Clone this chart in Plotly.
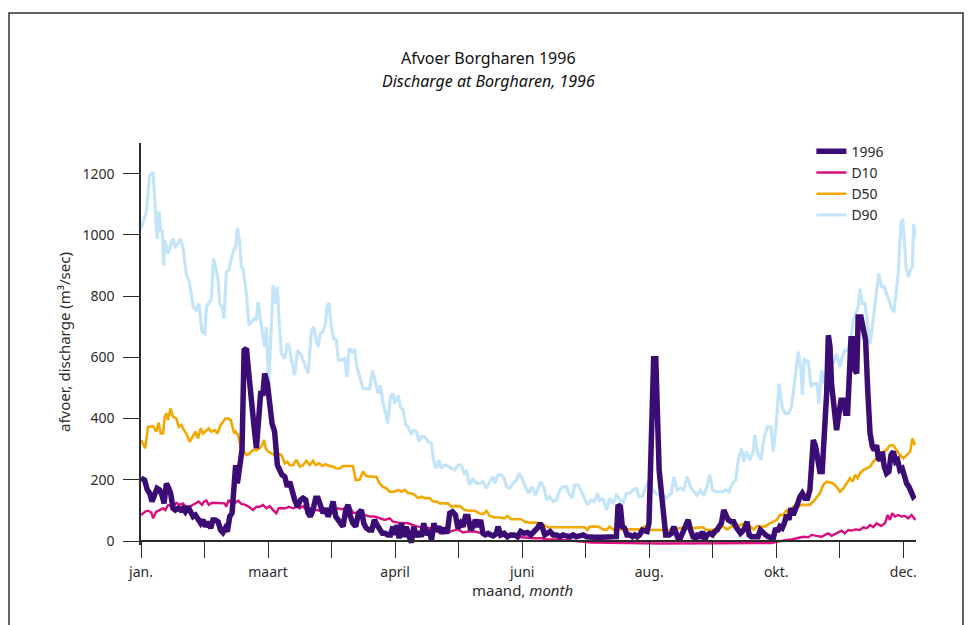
import plotly.graph_objects as go

# Day of year (0 = 1 January 1996) and discharge in m3/s for each series

d90_day = [0, 2.5, 4.1, 5.7, 6.8, 7.6, 8.5, 9.3, 10.1, 10.7, 11.2, 12.8, 13.9, 15.1, 16.2, 17.5, 18.7, 19.8,
           21.4, 23.0, 24.6, 26.1, 27.4, 28.8, 30.1, 30.9, 32.4, 33.2, 34.2, 35.6, 36.4, 37.2, 38.3, 39.2,
           40.3, 41.4, 42.7, 44.0, 44.6, 45.5, 46.5, 47.4, 48.2, 49.8, 50.9, 52.1, 53.7, 54.5, 55.3, 56.5,
           57.6, 58.4, 59.2, 60.3, 62.4, 63.2, 64.4, 65.0, 66.3, 67.9, 69.1, 70.2, 71.0, 72.6, 73.9,
           75.7, 77.3, 78.9, 80.5, 81.6, 82.8, 83.6, 84.7, 86.0, 87.1, 87.9, 88.8, 89.9, 91.0, 92.3, 93.2,
           94.6, 96.2, 97.3, 98.3, 99.8, 100.9, 102.0, 103.3, 104.9, 106.4, 108.0, 109.3, 110.4, 112.0,
           113.1, 114.3, 115.6, 116.5, 117.8, 119.0, 119.8, 121.4, 122.5, 123.8, 125.0, 126.1, 127.7,
           128.8, 130.1, 131.3, 132.4, 134.0, 135.6, 137.2, 138.0, 139.2, 140.8, 141.6, 142.7, 144.2,
           146.6, 148.1, 149.7, 151.3, 152.6, 153.7, 155.2, 156.8, 158.4, 160.0, 161.5, 163.1, 164.7,
           166.3, 167.0, 168.6, 170.2, 171.5, 172.6, 174.1, 175.7, 177.3, 178.5, 180.0, 181.5, 183.1,
           184.7, 186.3, 187.5, 188.8, 190.4, 191.6, 193.0, 194.6, 196.2, 197.8, 199.3, 200.9, 202.0,
           203.6, 204.8, 206.4, 207.7, 209.3, 210.8, 212.4, 214.0, 215.6, 216.7, 218.2, 219.8,
           221.3, 222.9, 224.5, 226.1, 227.6, 229.2, 230.8, 232.4, 234.0, 235.2, 236.8, 238.4, 239.9,
           241.5, 243.1, 244.7, 246.2, 247.8, 249.4, 250.5, 251.6, 253.2, 254.7, 256.3, 257.9, 259.5,
           261.0, 262.6, 264.2, 265.8, 267.3, 268.6, 269.9, 271.4, 273.0, 274.6, 276.2, 277.7, 279.3,
           280.9, 282.0, 283.6, 284.7, 285.9, 287.5, 289.1, 289.9, 291.0,
           292.8, 294.3, 295.9, 297.5, 298.6, 300.2, 301.3, 302.8, 304.1, 305.7, 307.2, 308.5, 309.6,
           310.4, 311.7, 312.3, 313.2, 314.3, 315.1, 316.4, 317.5, 319.1, 320.2, 321.4, 322.7, 323.8,
           324.9, 326.1, 327.4, 328.5, 330.1, 331.2, 332.4, 333.7, 335.0, 336.4, 337.5, 338.7, 339.5,
           340.6, 341.9, 343.2, 344.3, 345.4, 346.3, 347.4, 348.5, 349.8, 351.0, 352.1, 353.2, 354.5,
           355.6, 356.4, 357.6, 358.9, 359.7, 360.5, 361.3, 362.4, 363.6, 364.3, 364.9, 365.8]
d90_q = [1020, 1074, 1194, 1205, 1080, 987, 1078, 1009, 1015, 900, 982, 938, 966, 987, 962, 971, 987, 960,
         873, 841, 765, 754, 775, 683, 677, 765, 781, 786, 922, 884, 851, 775, 765, 726,
         879, 884, 922, 955, 955, 1023, 982, 895, 890, 808, 705, 716, 726, 721, 781, 716,
         667, 634, 699, 509, 835, 775, 830, 743, 612, 596, 645, 629, 591, 542, 623,
         607, 580, 547, 688, 699, 656, 634, 678, 683, 710, 765, 778, 699, 661, 656, 591,
         591, 596, 536, 629, 618, 623, 569, 536, 498, 498, 498, 558, 525, 482,
         509, 449, 417, 384, 471, 482, 449, 476, 438, 427, 379, 373, 351,
         362, 357, 324, 341, 341, 324, 319, 270, 237, 264, 237, 245, 248,
         237, 232, 248, 248, 221, 227, 183, 205, 188, 188, 194, 172, 194,
         210, 188, 216, 216, 205, 177, 172, 188, 199, 221, 205, 177, 156,
         177, 150, 172, 194, 172, 134, 145, 129, 134, 167, 177, 177, 156,
         140, 183, 183, 167, 140, 118, 134, 129, 156, 129, 140, 101,
         140, 123, 150, 134, 123, 156, 156, 167, 172, 145, 145, 177, 194,
         167, 156, 150, 156, 140, 150, 156, 210, 167, 172, 167, 210, 177,
         161, 150, 167, 150, 177, 216, 167, 161, 161, 161, 167, 161, 188,
         199, 264, 302, 259, 292, 264, 292, 346, 292,
         264, 341, 373, 373, 292, 395, 514, 438, 417, 417, 438, 504, 558,
         618, 558, 477, 596, 585, 591, 504, 514, 514, 449, 558, 514, 525,
         525, 591, 585, 612, 569, 601, 623, 623, 656, 716, 743, 765, 824,
         776, 776, 699, 645, 699, 765, 819, 873, 830, 830, 808, 786, 759,
         748, 808, 873, 1036, 1053, 982, 895, 862, 890, 895, 1036, 987]

d50_day = [0, 2.0, 3.3, 5.7, 7.2, 8.3, 9.3, 10.4, 11.2, 12.0, 12.8, 13.9, 15.1, 16.7, 17.8, 19.0, 20.3,
           21.4, 23.0, 24.6, 25.7, 26.9, 28.2, 29.3, 30.9, 32.0, 33.2, 34.8, 36.1, 37.6, 38.7, 39.8,
           41.1, 42.4, 43.2, 44.0, 44.7, 45.8, 47.1, 48.7, 49.8, 51.3, 52.9, 54.5, 56.1, 57.2, 58.1,
           58.9, 60.0, 61.6, 63.1, 64.7, 66.3, 67.9, 69.1, 70.2, 71.8, 73.4, 75.0, 76.5, 78.1, 79.7,
           81.2, 82.5, 84.1, 85.7, 87.2, 88.8, 90.7, 92.3, 93.8, 95.4, 97.0, 100.1, 101.4, 103.3,
           104.9, 106.4, 108.8, 111.2, 112.7, 114.3, 115.9, 117.5, 119.8, 121.4, 123.0, 124.6, 126.1,
           127.7, 129.3, 130.9, 132.4, 134.0, 136.4, 137.9, 139.5, 141.1, 143.5, 145.0, 146.6, 148.1,
           150.5, 152.9, 155.2, 157.6, 160.0, 161.5, 163.1, 164.7, 167.0, 169.4, 171.8, 173.0, 174.9,
           177.3, 179.6, 181.2, 183.6, 185.9, 189.1, 192.2, 197.0, 201.7, 206.4, 209.6, 210.8, 211.9,
           215.9, 218.2, 219.8, 221.3, 222.9, 226.1, 230.8, 235.5, 237.9, 240.2, 245.0, 249.7, 254.4,
           260.7, 265.4, 267.0, 270.2, 272.5, 274.9, 276.8, 278.8, 280.9, 282.5, 284.0, 285.9, 287.5,
           289.4, 291.0, 292.5, 294.6, 297.0, 298.6, 300.2, 301.7, 303.3, 304.9, 306.5, 308.0, 309.6,
           311.7, 313.5, 315.9, 317.5, 319.1, 320.6, 322.2, 323.8, 325.4, 326.9, 328.5, 330.1, 331.7,
           333.2, 334.8, 336.1, 337.2, 338.4, 339.5, 341.1, 342.7, 344.3, 345.8, 347.4, 349.0, 350.6,
           352.1, 353.7, 355.3, 356.9, 358.4, 360.0, 361.6, 363.2, 364.3, 365.5]
d50_q = [330, 303, 373, 375, 357, 386, 351, 351, 406, 417, 395, 433, 406, 400, 373, 379, 362,
         351, 324, 346, 357, 335, 368, 351, 362, 368, 357, 362, 351, 379, 389, 400,
         400, 395, 373, 351, 357, 346, 308, 292, 281, 286, 297, 297, 303, 313, 330,
         303, 292, 286, 281, 286, 281, 254, 259, 248, 248, 265, 243, 248, 262, 248,
         262, 248, 254, 245, 251, 245, 243, 237, 237, 245, 245, 245, 199, 201,
         227, 212, 210, 210, 188, 177, 172, 161, 161, 167, 161, 167, 156,
         156, 150, 140, 145, 140, 140, 129, 129, 123, 123, 123, 112, 114,
         114, 101, 99, 99, 90, 88, 99, 82, 77, 77, 74, 82, 71,
         71, 71, 63, 60, 60, 58, 45, 45, 45, 45, 45, 36, 47,
         47, 38, 36, 47, 38, 38, 38, 38, 47, 36, 36, 36, 42,
         42, 45, 36, 36, 45, 47, 38, 47, 58, 49, 56, 42, 49,
         38, 49, 47, 47, 58, 63, 69, 85, 85, 101, 96, 112, 107,
         118, 118, 118, 129, 145, 156, 183, 194, 191, 188, 177, 161, 172,
         188, 205, 194, 216, 205, 221, 232, 237, 243, 259, 270, 281, 292,
         297, 313, 313, 297, 281, 270, 281, 292, 335, 313]

d10_day = [0, 2.0, 3.3, 4.9, 5.7, 7.2, 8.8, 10.4, 11.5, 12.8, 14.3, 15.9, 16.7, 18.3, 19.8, 21.4, 23.0,
           24.6, 25.7, 27.2, 28.8, 29.8, 30.9, 32.0, 33.5, 35.6, 37.9, 39.5, 40.3, 41.4, 42.7, 44.2,
           45.8, 47.4, 49.3, 50.9, 52.9, 54.5, 56.1, 57.6, 59.2, 60.8, 62.4, 63.9, 65.0, 66.6, 68.2,
           69.8, 71.8, 73.4, 75.0, 76.5, 78.1, 79.7, 81.2, 82.8, 84.4, 86.8, 88.3, 89.9, 91.5, 93.1,
           94.6, 97.0, 98.6, 100.1, 101.7, 103.3, 105.7, 108.0, 110.4, 112.7, 115.1, 117.5, 119.0,
           121.4, 123.8, 126.1, 128.5, 130.9, 134.0, 136.4, 139.5, 142.7, 145.8, 147.4, 149.7, 152.1,
           154.4, 157.6, 160.7, 163.9, 167.0, 170.2, 173.3, 176.5, 179.6, 182.8, 186.0, 189.1, 192.2,
           197.0, 201.7, 208.0, 212.7, 217.4, 230.0, 245.0, 260.0, 275.0, 291.5, 297.8, 301.0, 304.1,
           307.2, 310.4, 312.8, 315.1, 316.7, 319.1, 321.4, 323.0, 324.6, 326.1, 328.5, 330.9, 332.4,
           334.0, 335.6, 337.5, 339.5, 341.1, 342.7, 344.3, 345.8, 347.4, 349.5, 351.3, 352.6, 353.7,
           354.8, 356.1, 357.6, 359.2, 360.8, 362.4, 363.9, 365.8]
d10_q = [85, 96, 99, 93, 74, 96, 101, 107, 101, 118, 114, 118, 125, 118, 123, 112, 112,
         118, 123, 129, 118, 129, 132, 118, 125, 125, 125, 123, 112, 134, 123, 123,
         132, 121, 118, 112, 101, 112, 112, 118, 107, 114, 101, 91, 107, 107, 107,
         112, 107, 112, 107, 114, 101, 107, 104, 101, 99, 101, 99, 99, 101, 107,
         104, 107, 112, 93, 91, 85, 85, 80, 80, 74, 69, 74, 63,
         60, 58, 58, 52, 47, 45, 42, 38, 36, 30, 34, 38, 28,
         31, 31, 25, 20, 20, 17, 14, 14, 12, 12, 9, 9, 5,
         5, 3, -2, -5, -5, -7, -8, -7, -8, -7, -7, -2, 3,
         5, 9, 14, 12, 20, 17, 14, 20, 25, 17, 25, 34, 25,
         36, 34, 38, 36, 45, 42, 52, 45, 58, 49, 58, 85, 69,
         91, 80, 85, 80, 82, 74, 85, 69]

q1996_day = [0, 1.7, 3.0, 4.1, 5.2, 6.5, 7.6, 8.8, 9.9, 10.9, 12.0, 13.1, 14.0, 15.1, 16.2, 17.5, 18.7,
             19.8, 20.9, 22.2, 23.5, 24.6, 25.7, 26.9, 28.2, 29.3, 30.4, 31.6, 32.9, 34.0, 35.1, 36.4,
             37.6, 38.7, 39.8, 40.8, 41.9, 43.0, 44.0, 44.7, 45.5, 46.6, 47.7, 48.7, 49.8, 50.9, 52.1,
             53.4, 54.5, 55.6, 56.5, 57.6, 58.4, 59.7, 60.8, 61.9, 63.1, 64.4, 65.5, 66.6, 67.9, 69.1,
             70.2, 71.3, 72.6, 73.9, 75.3, 76.5, 77.8, 78.9, 80.0, 81.2, 82.5, 83.6, 84.7, 86.0, 87.2,
             88.3, 89.4, 90.7, 92.0, 93.1, 94.2, 95.4, 96.7, 97.8, 98.9, 100.1, 101.4, 102.7, 104.1,
             105.2, 106.4, 107.7, 109.0, 110.2, 111.5, 112.7, 114.0, 115.3, 116.5, 117.8, 119.0, 119.8,
             120.9, 121.9, 123.0, 124.1, 125.3, 126.6, 127.7, 128.8, 130.1, 131.3, 132.4, 133.5, 134.8,
             136.1, 137.2, 138.3, 139.5, 140.8, 141.9, 143.5, 144.6, 145.8, 147.1, 148.5, 149.7, 151.0,
             152.1, 153.2, 154.4, 155.7, 156.8, 157.9, 159.2, 160.4, 161.5, 162.6, 163.9, 165.2, 166.4,
             167.8, 168.6, 169.9, 171.5, 173.0, 174.6, 176.2, 177.8, 179.3, 180.9, 182.5, 184.1, 185.6,
             187.2, 188.5, 189.4, 190.7, 191.9, 193.2, 194.6, 196.2, 197.8, 199.3, 200.9, 202.5, 204.1,
             205.6, 207.2, 208.8, 210.4, 211.9, 214.3, 217.4, 221.3, 224.5, 225.3, 226.4, 227.3, 228.4,
             229.5, 230.8, 232.1, 233.2, 234.3, 235.5, 236.8, 237.9, 239.0, 239.9, 241.0, 242.1, 243.1,
             243.9, 244.7, 245.8, 246.9, 247.8, 249.4, 250.5, 251.6, 252.5, 253.6, 254.7, 256.0, 257.3,
             258.4, 259.5, 260.7, 262.0, 263.1, 264.2, 265.1, 266.2, 267.3, 268.6, 269.9, 271.0, 272.1,
             273.0, 274.1, 275.2, 276.2, 277.3, 278.8, 279.9, 280.9, 282.0, 283.1, 284.0, 285.1, 286.2,
             287.2, 288.3, 289.9, 291.4, 292.5, 293.9, 295.0, 296.2, 297.5, 298.6, 299.7, 300.6, 301.7,
             302.8, 303.8, 304.9, 306.0, 306.9, 308.0, 309.1, 310.1, 311.2, 312.3, 313.5, 314.8, 315.9,
             316.7, 317.5, 318.6, 319.5, 320.6, 321.7, 323.0, 323.8, 324.6, 325.4, 326.1, 327.4, 328.5,
             329.6, 330.6, 331.7, 332.8, 333.7, 334.3, 335.3, 336.4, 337.2, 338.0, 338.7, 340.0, 341.1,
             342.2, 343.2, 344.3, 345.4, 346.3, 347.4, 348.2, 349.0, 350.1, 351.0, 352.1, 353.2, 354.2,
             355.3, 356.4, 357.3, 358.4, 359.5, 360.5, 361.6, 362.7, 363.6, 364.7, 365.5]
q1996 = [205, 199, 167, 156, 129, 161, 172, 167, 150, 123, 188, 172, 156, 107, 101, 107, 101,
         107, 96, 112, 96, 80, 85, 69, 58, 69, 47, 63, 42, 69, 69, 63,
         36, 28, 42, 31, 80, 91, 221, 248, 188, 248, 297, 623, 629, 547, 438,
         373, 303, 406, 482, 482, 547, 514, 449, 384, 357, 248, 232, 216, 210, 177,
         194, 161, 134, 112, 134, 140, 134, 91, 80, 101, 140, 140, 112, 91, 107,
         80, 96, 129, 80, 69, 63, 47, 101, 118, 80, 58, 47, 91, 101,
         58, 42, 36, 36, 69, 52, 36, 25, 25, 20, 20, 47, 20,
         52, 9, 58, 14, 47, 14, -5, 47, 14, 31, 14, 58, 20,
         36, 3, 58, 31, 47, 25, 42, 25, 91, 96, 85, 42, 58,
         47, 80, 80, 36, 47, 69, 47, 69, 25, 20, 25, 20, 17,
         25, 47, 20, 25, 14, 20, 20, 14, 31, 25, 28, 20, 31,
         42, 58, 47, 20, 25, 31, 20, 20, 14, 20, 17, 14, 20,
         14, 17, 20, 14, 12, 12, 12, 12, 14, 118, 112, 47, 42,
         20, 20, 14, 20, 14, 20, 36, 31, 31, 58, 286, 595, 595,
         384, 232, 156, 91, 20, 20, 25, 47, 25, 9, 9, 31, 47,
         69, 36, 14, 9, 25, 9, 31, 3, 20, 25, 20, 31, 36,
         47, 58, 101, 85, 69, 63, 63, 47, 31, 25, 31, 42, 63,
         20, 14, 14, 14, 36, 25, 20, 14, 9, 9, 42, 31, 47,
         42, 58, 85, 69, 107, 85, 112, 123, 145, 156, 140, 140, 167,
         264, 330, 308, 254, 227, 227, 351, 482, 672, 634, 514, 417, 362,
         417, 460, 460, 417, 417, 547, 661, 661, 558, 547, 732, 732, 678,
         656, 493, 351, 308, 297, 313, 270, 264, 292, 243, 221, 227, 281,
         292, 259, 264, 232, 237, 210, 188, 177, 161, 145, 150]

# Axis ticks every 30 days; every second tick carries a month label
tick_days = [0, 30, 60, 90, 120, 150, 180, 210, 240, 270, 300, 330, 360]
tick_text = ["jan.", "", "maart", "", "april", "", "juni", "", "aug.", "", "okt.", "", "dec."]
y_ticks = [0, 200, 400, 600, 800, 1000, 1200]

FONT = "Noto Sans"
INK = "#2b2b2b"

fig = go.Figure()

series = [
    ("D90", d90_day, d90_q, "#c4e4f8", 3.2),
    ("D50", d50_day, d50_q, "#f2a800", 2.6),
    ("D10", d10_day, d10_q, "#d90f7d", 2.4),
    ("1996", q1996_day, q1996, "#3b0d74", 5.5),
]
for name, xs, ys, color, width in series:
    fig.add_trace(go.Scatter(x=xs, y=ys, name=name, mode="lines",
                             line=dict(color=color, width=width),
                             hoverinfo="skip"))

Y_MIN = -13
fig.update_layout(
    width=968, height=625,
    margin=dict(l=141, r=52, t=143, b=80),
    paper_bgcolor="white", plot_bgcolor="white",
    font=dict(family=FONT, size=14, color=INK),
    showlegend=True,
    legend=dict(x=0.865, y=1.018, xanchor="left", yanchor="top",
                traceorder="reversed", font=dict(size=14, color=INK),
                bgcolor="rgba(0,0,0,0)", tracegroupgap=0, itemwidth=30),
    xaxis=dict(range=[0, 366], tickmode="array", tickvals=tick_days, ticktext=tick_text,
               ticks="outside", ticklen=16, tickwidth=1.3, tickcolor=INK,
               showline=True, linecolor=INK, linewidth=1.5,
               showgrid=False, zeroline=False,
               anchor="free", position=(0 - Y_MIN) / (1300 - Y_MIN),
               ticklabelstandoff=2,
               tickfont=dict(size=14, color=INK)),
    yaxis=dict(range=[Y_MIN, 1300], tickmode="array", tickvals=y_ticks,
               ticks="outside", ticklen=16, tickwidth=1.3, tickcolor=INK,
               showline=True, linecolor=INK, linewidth=1.5,
               showgrid=False, zeroline=False,
               ticklabelstandoff=6,
               tickfont=dict(size=14, color=INK)),
)

# Title (Dutch / English)
fig.add_annotation(text="Afvoer Borgharen 1996", xref="paper", yref="paper",
                   x=(488 - 141) / 775, y=(545 - 58) / 402, showarrow=False,
                   font=dict(size=16, color="#111"), xanchor="center", yanchor="middle")
fig.add_annotation(text="<i>Discharge at Borgharen, 1996</i>", xref="paper", yref="paper",
                   x=(488 - 141) / 775, y=(545 - 81) / 402, showarrow=False,
                   font=dict(size=16, color="#111"), xanchor="center", yanchor="middle")

# Axis titles
fig.add_annotation(text="afvoer, discharge (m³/sec)", xref="paper", yref="paper",
                   x=(64 - 141) / 775, y=(545 - 342) / 402, showarrow=False, textangle=-90,
                   font=dict(size=15, color=INK), xanchor="center", yanchor="middle")
fig.add_annotation(text="maand, <i>month</i>", xref="paper", yref="paper",
                   x=(522 - 141) / 775, y=(545 - 590) / 402, showarrow=False,
                   font=dict(size=15, color=INK), xanchor="center", yanchor="middle")

# Frame around the whole figure
fig.add_shape(type="rect", xref="paper", yref="paper",
              x0=(9 - 141) / 775, x1=(963 - 141) / 775,
              y0=(545 - 640) / 402, y1=(545 - 13) / 402,
              line=dict(color="#333", width=1.5), fillcolor="rgba(0,0,0,0)", layer="below")

fig.write_html("out.html")
